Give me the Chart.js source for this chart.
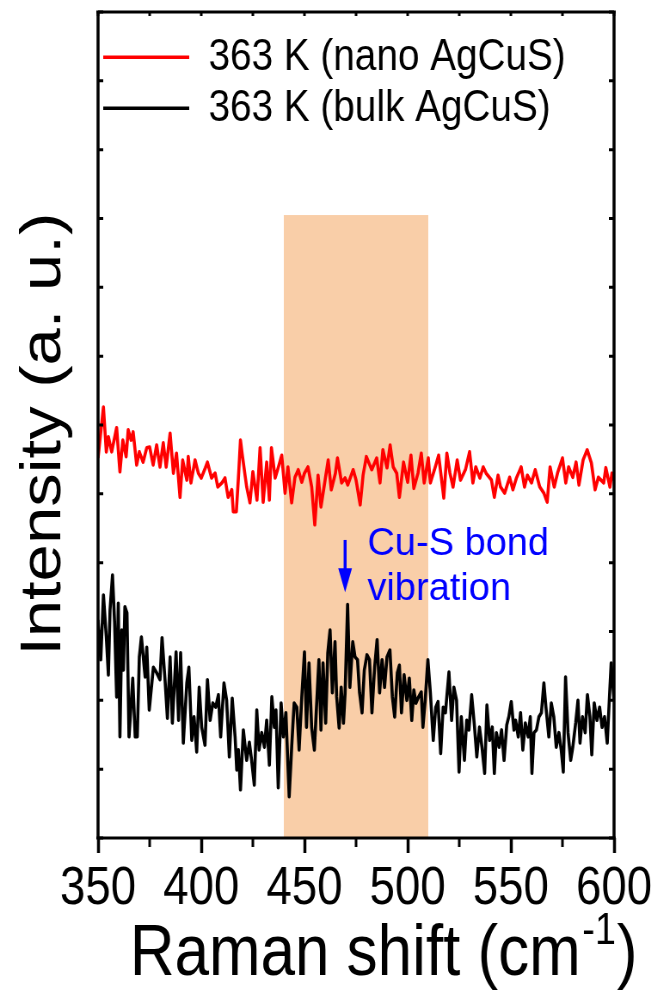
<!DOCTYPE html>
<html>
<head>
<meta charset="utf-8">
<script src="https://cdn.jsdelivr.net/npm/chart.js@4.4.1/dist/chart.umd.min.js"></script>
<style>
  html, body { margin: 0; padding: 0; overflow: hidden; background: #fff; }
  /* the original figure is a slightly squeezed Origin plot */
  #wrap { width: 767px; height: 990px; transform: scaleX(0.86); transform-origin: 0 0; }
</style>
</head>
<body>
<div id="wrap"><canvas id="myChart"></canvas></div>
<script>
const squish = 0.86;

// nano AgCuS, 363 K
const redShift = [350, 352.6, 354, 355, 356.6, 359, 360.6, 362, 363.6, 364.6, 366, 367, 368.7, 370, 371.8, 373.6, 375, 376.7, 378.4, 380,
  381.6, 383, 384.9, 386.5, 388, 389.7, 391, 393, 393.7, 395, 397, 398.6, 400, 402, 403, 405, 406.7, 408, 410, 411.5,
  413, 414.8, 415.5, 417, 418, 419, 420, 422, 423.6, 425, 427, 428.5, 430, 431.7, 433, 434, 435.8, 437, 439, 440.6,
  442, 443.8, 445.4, 447, 448.7, 450, 451.7, 453.5, 455, 456.6, 458, 460, 461.5, 463, 465, 466, 468, 469.7, 471, 473.6,
  475, 477, 478.4, 480, 482.6, 485, 486.6, 488, 490, 491.5, 493, 494.7, 496, 498, 500, 501.6, 503, 505, 506.6, 508,
  510, 511, 513, 515, 517.5, 519, 520.5, 522, 524, 525.6, 528, 530, 531.6, 533, 535, 536.6, 538, 540.6, 542, 543.8,
  545, 547, 549.4, 551, 552.7, 555, 556.6, 558, 560, 561.8, 564, 566, 567.6, 569, 571, 572.6, 575, 576.6, 578, 580,
  581.6, 583, 585, 587, 589, 590.8, 592.4, 595, 596, 598, 599, 600];
const redIntensity = [552, 626, 561, 583, 561, 596, 532, 578, 554, 593, 578, 590, 542, 561, 546, 567, 568, 542, 571, 539,
  574, 539, 588, 530, 559, 495, 549, 520, 554, 516, 549, 530, 523, 538, 546, 523, 530, 510, 516, 523,
  495, 506, 474, 474, 523, 578, 554, 510, 487, 532, 491, 567, 488, 546, 491, 567, 523, 535, 556, 501,
  539, 487, 524, 535, 517, 530, 539, 510, 455, 527, 481, 520, 549, 506, 530, 552, 516, 523, 513, 535,
  520, 484, 527, 554, 535, 552, 516, 564, 538, 571, 539, 530, 495, 546, 517, 556, 508, 530, 559, 516,
  552, 516, 535, 556, 494, 559, 530, 510, 549, 520, 535, 561, 516, 539, 523, 539, 530, 520, 495, 527,
  510, 501, 524, 506, 523, 539, 510, 527, 516, 535, 510, 501, 488, 539, 510, 530, 552, 516, 539, 524,
  546, 513, 549, 564, 545, 506, 524, 516, 538, 510, 530, 520];

// bulk AgCuS, 363 K
const blackShift = [350, 351.3, 352.6, 354, 355, 355.8, 357, 358, 359, 359.8, 360.6, 361.5, 362.3, 363, 364, 365, 366.8, 368, 369, 370,
  371, 372.8, 373.6, 374.8, 376.8, 378.4, 380, 381, 382.5, 383.6, 384.9, 386, 387.8, 389, 390, 391.3, 393, 394, 395.4, 396.5,
  397.8, 399, 400.2, 401.8, 403, 404.3, 405.6, 407, 408.3, 409.4, 411, 412.3, 413.6, 415, 416.4, 417.2, 418, 419, 420.4, 422,
  423.3, 424.4, 425.7, 426.9, 428, 429.3, 430.6, 431.7, 433, 434.2, 435.4, 436.2, 437.3, 438.7, 439.8, 441, 442.6, 443.8, 445, 446.3,
  447.4, 448.7, 450, 451, 452.2, 453.5, 454.8, 456, 457, 458, 459, 460.3, 461.3, 462.4, 463.5, 464.8, 465.6, 466.8, 467.8, 468.9,
  469.7, 470.9, 472, 473.4, 474.5, 475.7, 476.7, 477.9, 479, 480.3, 481.5, 482.7, 484, 485.2, 486.4, 487.6, 488.8, 490, 491.4, 492.6,
  493.7, 495, 496, 497, 498.3, 499.6, 500.8, 502, 503, 504, 505.3, 506.6, 507.4, 508.5, 509.8, 511, 512.4, 513.6, 514.7, 516,
  517.2, 518.3, 520, 521.3, 522.4, 523.7, 524.9, 526, 527.5, 528.6, 529.7, 531, 532.4, 533.5, 534.8, 536, 537.3, 538.4, 539.7, 541,
  542, 543, 544.3, 545.5, 546.7, 548, 549, 550.2, 551.5, 552.3, 553.6, 554.7, 555.8, 557, 558.4, 559.4, 560.2, 561.2, 562.4, 563.6,
  564.8, 566, 567, 568.4, 569.6, 570.8, 572, 573.3, 574.4, 575.4, 576.5, 577.7, 579, 580, 581.4, 582.5, 583.5, 584.7, 586, 587.1,
  588.3, 589.2, 590.4, 591.7, 593, 594.2, 595.4, 596.7, 598, 598.6, 600];
const blackIntensity = [317, 259, 353, 292, 237, 331, 382, 314, 205, 341, 147, 302, 244, 336, 327, 147, 232, 147, 147, 263,
  292, 234, 277, 186, 248, 240, 230, 291, 227, 174, 263, 167, 270, 171, 269, 138, 225, 248, 142, 176,
  125, 219, 161, 135, 230, 171, 196, 190, 208, 147, 225, 200, 118, 203, 147, 99, 128, 70, 157, 113,
  139, 113, 77, 186, 128, 153, 132, 171, 106, 205, 161, 186, 73, 196, 147, 182, 60, 132, 196, 190,
  128, 205, 270, 161, 254, 160, 128, 200, 259, 157, 254, 167, 269, 302, 211, 285, 205, 160, 219, 167,
  211, 339, 219, 285, 263, 259, 211, 182, 244, 266, 259, 182, 248, 288, 211, 259, 219, 263, 273, 205,
  176, 240, 251, 182, 237, 200, 232, 171, 215, 196, 205, 212, 161, 200, 259, 211, 142, 190, 198, 123,
  190, 182, 241, 171, 219, 200, 96, 176, 113, 171, 157, 208, 161, 118, 161, 132, 94, 193, 142, 161,
  94, 153, 132, 157, 113, 164, 176, 198, 157, 171, 147, 182, 128, 167, 147, 176, 94, 153, 157, 176,
  182, 225, 190, 147, 196, 176, 132, 153, 128, 96, 234, 153, 113, 132, 167, 200, 138, 176, 153, 208,
  176, 121, 196, 171, 190, 161, 176, 138, 219, 254, 200];

const xTicks = { min: 350, max: 600, major: 50, minor: 25 };
const yRange = { min: 0, max: 1200, step: 100 };
const bandRange = [440, 510];
const bandTop = 905;
const arrowX = 469.7;
const arrowFrom = 433;
const arrowTo = 357;
const noteX = 480.5;
const noteLines = ['Cu-S bond', 'vibration'];
const noteY = [411, 346];
const xTitle = ['Raman shift (cm', '-1', ')'];

const fontFamily = '"Liberation Sans", Arial, Helvetica, sans-serif';

function toPoints(xs, ys) {
    return xs.map((v, i) => ({ x: v, y: ys[i] }));
}

const framePlugin = {
    id: 'frame',
    beforeDatasetsDraw(chart) {
        const { ctx, chartArea: a, scales: { x, y } } = chart;
        const x0 = x.getPixelForValue(bandRange[0]);
        const x1 = x.getPixelForValue(bandRange[1]);
        const yt = y.getPixelForValue(bandTop);
        ctx.save();
        ctx.fillStyle = 'rgb(249, 206, 168)';
        ctx.fillRect(x0, yt, x1 - x0, a.bottom - yt);
        ctx.restore();
    },
    afterDraw(chart) {
        const { ctx, chartArea: a, scales: { x, y } } = chart;
        ctx.save();
        ctx.strokeStyle = '#000';
        // box
        ctx.lineWidth = 3;
        ctx.beginPath();
        ctx.moveTo(a.left - 2, a.top); ctx.lineTo(a.right + 2, a.top);
        ctx.moveTo(a.left - 2, a.bottom); ctx.lineTo(a.right + 2, a.bottom);
        ctx.stroke();
        ctx.lineWidth = 3.5;
        ctx.beginPath();
        ctx.moveTo(a.left, a.top); ctx.lineTo(a.left, a.bottom);
        ctx.moveTo(a.right, a.top); ctx.lineTo(a.right, a.bottom);
        ctx.stroke();
        // minor ticks bottom, small ticks top
        ctx.lineWidth = 3;
        ctx.beginPath();
        for (let v = xTicks.min; v <= xTicks.max; v += xTicks.minor) {
            const px = x.getPixelForValue(v);
            if ((v - xTicks.min) % xTicks.major !== 0) {
                ctx.moveTo(px, a.bottom); ctx.lineTo(px, a.bottom + 9);
            }
            ctx.moveTo(px, a.top); ctx.lineTo(px, a.top + 4);
        }
        // y ticks, inward on both sides
        for (let v = yRange.min; v <= yRange.max; v += yRange.step) {
            const py = y.getPixelForValue(v);
            ctx.moveTo(a.left, py); ctx.lineTo(a.left + 6, py);
            ctx.moveTo(a.right, py); ctx.lineTo(a.right - 6, py);
        }
        ctx.stroke();

        // x axis title with superscript
        ctx.fillStyle = '#000';
        ctx.textBaseline = 'alphabetic';
        let tx = a.left + 37;
        const ty = a.bottom + 137;
        ctx.font = '72px ' + fontFamily;
        ctx.fillText(xTitle[0], tx, ty);
        tx += ctx.measureText(xTitle[0]).width + 2;
        ctx.font = '44px ' + fontFamily;
        ctx.fillText(xTitle[1], tx, ty - 31);
        tx += ctx.measureText(xTitle[1]).width + 1;
        ctx.font = '72px ' + fontFamily;
        ctx.fillText(xTitle[2], tx, ty);

        // arrow
        const ax = x.getPixelForValue(arrowX);
        const ay0 = y.getPixelForValue(arrowFrom);
        const ay1 = y.getPixelForValue(arrowTo);
        ctx.strokeStyle = '#0000ff';
        ctx.fillStyle = '#0000ff';
        ctx.lineWidth = 3.5;
        ctx.beginPath();
        ctx.moveTo(ax, ay0); ctx.lineTo(ax, ay1 - 16);
        ctx.stroke();
        ctx.beginPath();
        ctx.moveTo(ax - 8, ay1 - 24);
        ctx.lineTo(ax + 8, ay1 - 24);
        ctx.lineTo(ax, ay1);
        ctx.closePath();
        ctx.fill();

        // note text (drawn unsqueezed, as in the figure)
        ctx.font = '38px ' + fontFamily;
        ctx.translate(x.getPixelForValue(noteX), 0);
        ctx.scale(1 / squish, 1);
        noteLines.forEach((t, i) => ctx.fillText(t, 0, y.getPixelForValue(noteY[i])));
        ctx.restore();
    }
};

const ctx = document.getElementById('myChart').getContext('2d');
const myChart = new Chart(ctx, {
    type: 'line',
    data: {
        datasets: [
            {
                label: '363 K (nano AgCuS)',
                data: toPoints(redShift, redIntensity),
                borderColor: '#ff0000',
                backgroundColor: '#ff0000',
                borderWidth: 3.6,
                borderJoinStyle: 'round',
                pointRadius: 0,
                fill: false
            },
            {
                label: '363 K (bulk AgCuS)',
                data: toPoints(blackShift, blackIntensity),
                borderColor: '#000000',
                backgroundColor: '#000000',
                borderWidth: 3.6,
                borderJoinStyle: 'round',
                pointRadius: 0,
                fill: false
            }
        ]
    },
    options: {
        responsive: true,
        maintainAspectRatio: false,
        animation: false,
        layout: { padding: { top: 12, right: 53, left: 0, bottom: 0 } },
        scales: {
            x: {
                type: 'linear',
                min: xTicks.min,
                max: xTicks.max,
                afterFit: s => { s.height = 152; },
                ticks: {
                    stepSize: xTicks.major,
                    padding: 5,
                    color: '#000',
                    font: { family: fontFamily, size: 53 }
                },
                grid: {
                    display: true,
                    drawOnChartArea: false,
                    drawTicks: true,
                    tickLength: 15,
                    tickWidth: 3.5,
                    tickColor: '#000'
                },
                border: { display: false },
                title: { display: false }
            },
            y: {
                min: yRange.min,
                max: yRange.max,
                afterFit: s => { s.width = 114; },
                ticks: { display: false },
                grid: { display: false },
                border: { display: false },
                title: {
                    display: true,
                    text: 'Intensity (a. u.) ',
                    color: '#000',
                    font: { family: fontFamily, size: 67, lineHeight: 1 },
                    padding: { top: 18, bottom: 0 }
                }
            }
        },
        plugins: {
            legend: {
                position: 'chartArea',
                align: 'start',
                title: { display: true, text: '', padding: 0, font: { size: 24, lineHeight: 1.2 } },
                labels: {
                    usePointStyle: true,
                    pointStyle: 'line',
                    pointStyleWidth: 100,
                    padding: 6,
                    color: '#000',
                    font: { family: fontFamily, size: 45 }
                }
            },
            tooltip: { enabled: false }
        }
    },
    plugins: [framePlugin]
});
</script>
</body>
</html>
